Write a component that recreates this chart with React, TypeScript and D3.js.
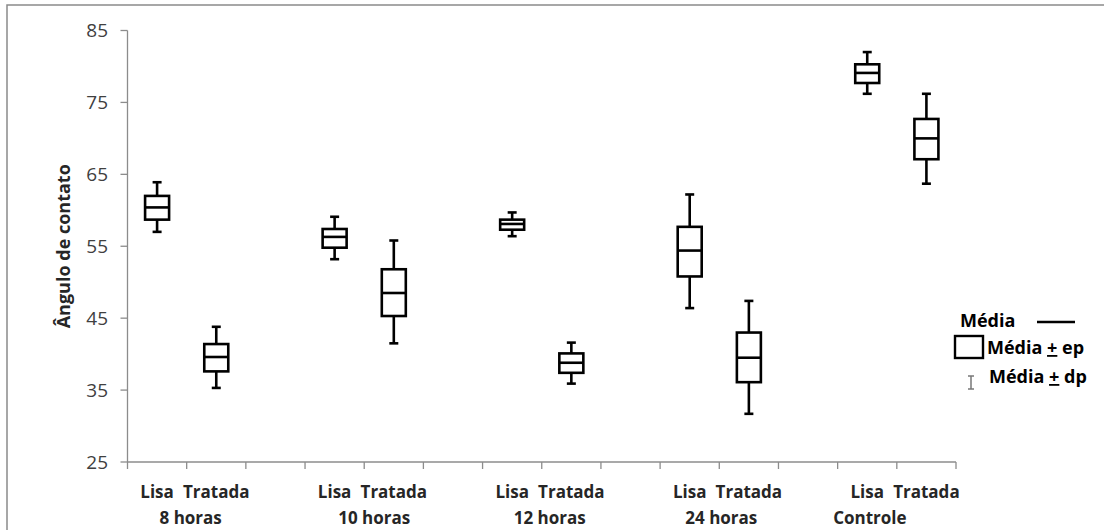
import * as d3 from "d3";

const groups = ["8 horas", "10 horas", "12 horas", "24 horas", "Controle"];
const series = ["Lisa", "Tratada"];

const lisaMean = [60.4, 56.3, 58.1, 54.4, 79.1];
const lisaEpHigh = [62.0, 57.4, 58.7, 57.7, 80.3];
const lisaEpLow = [58.7, 54.8, 57.3, 50.8, 77.7];
const lisaDpHigh = [63.9, 59.1, 59.7, 62.2, 82.0];
const lisaDpLow = [57.0, 53.2, 56.4, 46.4, 76.2];

const tratadaMean = [39.6, 48.5, 38.8, 39.5, 70.0];
const tratadaEpHigh = [41.4, 51.8, 40.1, 43.0, 72.7];
const tratadaEpLow = [37.6, 45.3, 37.4, 36.1, 67.1];
const tratadaDpHigh = [43.8, 55.8, 41.6, 47.4, 76.2];
const tratadaDpLow = [35.3, 41.5, 35.9, 31.7, 63.7];

const yTicks = [25, 35, 45, 55, 65, 75, 85];

const width = 1105;
const height = 530;
const font = "'Open Sans', sans-serif";

// second-row labels in the original sit a bit off the pair centre
const groupNudge = [4, 10, 8, 2, -27];

export default function App() {
  const slots = d3.range(groups.length * 3 - 1);
  const x = d3.scaleBand<number>().domain(slots).range([127.5, 956]);
  const y = d3.scaleLinear().domain([25, 85]).range([462, 30.5]);

  const boxW = 24;
  const capW = 9;

  const stats = [
    { mean: lisaMean, epH: lisaEpHigh, epL: lisaEpLow, dpH: lisaDpHigh, dpL: lisaDpLow },
    { mean: tratadaMean, epH: tratadaEpHigh, epL: tratadaEpLow, dpH: tratadaDpHigh, dpL: tratadaDpLow },
  ];

  const boxes = groups.flatMap((g, gi) =>
    series.map((s, si) => {
      const st = stats[si];
      const slot = gi * 3 + si;
      return {
        key: `${g}-${s}`,
        cx: (x(slot) as number) + x.bandwidth() / 2,
        mean: st.mean[gi],
        epH: st.epH[gi],
        epL: st.epL[gi],
        dpH: st.dpH[gi],
        dpL: st.dpL[gi],
      };
    })
  );

  const axisColor = "#8c8c8c";

  return (
    <div style={{ position: "absolute", left: 0, top: 0 }}>
      <svg width={width} height={height} style={{ display: "block", background: "#fff" }}>
        <path d={`M7,${height} V5 H1104`} fill="none" stroke="#8a8a8a" strokeWidth={1.5} />

        {/* y axis */}
        <line x1={x.range()[0]} x2={x.range()[0]} y1={y(85)} y2={y(25)} stroke={axisColor} strokeWidth={1.3} />
        {yTicks.map((t) => (
          <g key={t}>
            <line x1={x.range()[0] - 7} x2={x.range()[0]} y1={y(t)} y2={y(t)} stroke={axisColor} strokeWidth={1.3} />
            <text
              x={108}
              y={y(t)}
              dy="0.35em"
              textAnchor="end"
              fontFamily={font}
              fontSize={19}
              fill="#404040"
            >
              {t}
            </text>
          </g>
        ))}
        <text
          transform={`translate(70, ${(y(85) + y(25)) / 2}) rotate(-90)`}
          textAnchor="middle"
          fontFamily={font}
          fontWeight="bold"
          fontSize={18}
          fill="#262626"
        >
          Ângulo de contato
        </text>

        {/* x axis */}
        <line x1={x.range()[0]} x2={x.range()[1]} y1={y(25)} y2={y(25)} stroke={axisColor} strokeWidth={1.3} />
        {[...slots, slots.length].map((i) => {
          const px = x.range()[0] + i * x.step();
          return <line key={i} x1={px} x2={px} y1={y(25)} y2={y(25) + 7} stroke={axisColor} strokeWidth={1.3} />;
        })}
        {groups.map((g, gi) => (
          <g key={g}>
            {series.map((s, si) => (
              <text
                key={s}
                x={(x(gi * 3 + si) as number) + x.bandwidth() / 2}
                y={498}
                textAnchor="middle"
                fontFamily={font}
                fontWeight="bold"
                fontSize={17}
                fill="#262626"
              >
                {s}
              </text>
            ))}
            <text
              x={(x(gi * 3) as number) + x.bandwidth() + groupNudge[gi]}
              y={524}
              textAnchor="middle"
              fontFamily={font}
              fontWeight="bold"
              fontSize={17}
              fill="#262626"
            >
              {g}
            </text>
          </g>
        ))}

        {/* boxes */}
        {boxes.map((b) => (
          <g key={b.key} stroke="#000" strokeWidth={2.6} fill="none">
            <line x1={b.cx} x2={b.cx} y1={y(b.dpH)} y2={y(b.epH)} />
            <line x1={b.cx} x2={b.cx} y1={y(b.epL)} y2={y(b.dpL)} />
            <line x1={b.cx - capW / 2} x2={b.cx + capW / 2} y1={y(b.dpH)} y2={y(b.dpH)} />
            <line x1={b.cx - capW / 2} x2={b.cx + capW / 2} y1={y(b.dpL)} y2={y(b.dpL)} />
            <rect x={b.cx - boxW / 2} y={y(b.epH)} width={boxW} height={y(b.epL) - y(b.epH)} fill="#fff" />
            <line x1={b.cx - boxW / 2} x2={b.cx + boxW / 2} y1={y(b.mean)} y2={y(b.mean)} />
          </g>
        ))}

        {/* legend */}
        <g fontFamily={font} fontWeight="bold" fontSize={18} fill="#000">
          <text x={960} y={327}>Média</text>
          <line x1={1037} x2={1075} y1={322} y2={322} stroke="#000" strokeWidth={2.4} />
          <rect x={955} y={336} width={28} height={22} fill="#fff" stroke="#000" strokeWidth={2.4} />
          <text x={987} y={354}>
            Média <tspan textDecoration="underline">+</tspan> ep
          </text>
          <g stroke="#777" strokeWidth={1.5}>
            <line x1={971} x2={971} y1={376} y2={389} />
            <line x1={968} x2={974} y1={376} y2={376} />
            <line x1={968} x2={974} y1={389} y2={389} />
          </g>
          <text x={989} y={383}>
            Média <tspan textDecoration="underline">+</tspan> dp
          </text>
        </g>
      </svg>
    </div>
  );
}
